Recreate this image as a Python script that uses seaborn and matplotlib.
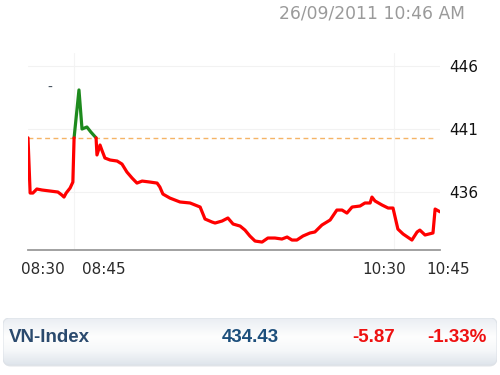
import numpy as np
import pandas as pd
import matplotlib
matplotlib.use("Agg")
import matplotlib.pyplot as plt
import matplotlib.transforms as mtransforms
from matplotlib.patches import FancyBboxPatch
from matplotlib.colors import LinearSegmentedColormap
import seaborn as sns

# ---------------- data ----------------
minutes = [0.0, 0.7, 1.6, 2.9, 4.6, 7.2, 9.8, 11.1, 11.8, 12.5, 13.8, 14.7, 15.1,
           16.7, 17.7, 19.3, 20.6, 22.3,
           22.6, 23.6, 24.2, 25.2, 26.9, 29.2, 30.8, 32.4, 34.1, 35.7, 37.4, 40.0,
           42.3, 43.2, 44.2, 46.5, 49.8, 53.1, 56.4, 58.0, 60.3, 61.3, 63.6, 65.5,
           67.2, 69.5, 71.1, 72.7, 74.4, 76.7, 78.6, 80.9, 83.2, 84.9, 86.5, 88.1,
           90.1, 92.4, 94.0, 96.3, 99.0, 101.2, 102.9, 104.5, 106.2, 108.8, 110.4,
           112.1, 112.7, 113.7, 116.0, 118.0, 119.6, 121.2, 122.9, 125.8, 127.5,
           128.4, 130.1, 132.7, 133.4, 135.0]
values = [440.30, 435.92, 435.92, 436.24, 436.16, 436.08, 436.00, 435.76, 435.60, 435.92, 436.32, 436.79, 440.30,
          444.10, 441.00, 441.16, 440.76, 440.30,
          438.94, 439.73, 439.33, 438.70, 438.54, 438.46, 438.22, 437.59, 437.11, 436.71, 436.87, 436.79,
          436.71, 436.40, 435.84, 435.52, 435.21, 435.13, 434.81, 433.86, 433.62, 433.54, 433.70, 433.94,
          433.46, 433.30, 432.98, 432.51, 432.11, 432.03, 432.35, 432.35, 432.27, 432.43, 432.19, 432.19,
          432.51, 432.75, 432.83, 433.38, 433.78, 434.57, 434.57, 434.33, 434.81, 434.89, 435.13,
          435.13, 435.60, 435.29, 434.97, 434.73, 434.73, 433.06, 432.67, 432.19, 432.83,
          432.98, 432.59, 432.75, 434.65, 434.43]
ref_value = 440.30
xtick_minutes = [0, 15, 120, 135]
xtick_labels = ["08:30", "08:45", "10:30", "10:45"]
ytick_values = [436, 441, 446]
timestamp = "26/09/2011 10:46 AM"
index_name = "VN-Index"
last_value = "434.43"
change = "-5.87"
pct_change = "-1.33%"

# ---------------- split into up/down segments ----------------
t = np.array(minutes)
v = np.array(values)
eps = 0.011


def runs(mask):
    out, start = [], None
    for i, m in enumerate(mask):
        if m and start is None:
            start = i
        if not m and start is not None:
            out.append((start, i))
            start = None
    if start is not None:
        out.append((start, len(mask)))
    return [r for r in out if r[1] - r[0] >= 2]


frames = []
seg = 0
for label, mask in (("up", v >= ref_value - eps), ("down", v <= ref_value + eps)):
    for a, b in runs(mask):
        frames.append(pd.DataFrame({"t": t[a:b], "v": v[a:b], "dir": label, "seg": seg}))
        seg += 1
df = pd.concat(frames, ignore_index=True)

# ---------------- figure ----------------
sns.set_theme(style="white")
plt.rcParams["font.family"] = ["DejaVu Sans"]

W, H = 500, 375
fig = plt.figure(figsize=(5, 3.75), dpi=100)
fig.patch.set_facecolor("white")

ax_left, ax_right = 28, 440
ax_top, ax_bottom = 53.4, 250
ax = fig.add_axes([ax_left / W, (H - ax_bottom) / H,
                   (ax_right - ax_left) / W, (ax_bottom - ax_top) / H])
ax.set_facecolor("white")
ax.set_xlim(0, 135)
ax.set_ylim(431.4, 447.0)

ax.axhline(ref_value, xmin=0, xmax=0.985, color="#f5b466", lw=1.0,
           ls=(0, (3.5, 2.5)), zorder=1)
for xm in (15, 120):
    ax.axvline(xm, color="#f4f4f4", lw=0.8, zorder=0)

sns.lineplot(data=df, x="t", y="v", hue="dir", units="seg", estimator=None,
             sort=False, palette={"up": "#1d8a1d", "down": "#ff0000"},
             linewidth=2.3, legend=False, ax=ax, zorder=3)

ax.set_xlabel("")
ax.set_ylabel("")
ax.set_yticks(ytick_values)
ax.yaxis.tick_right()
ax.grid(axis="y", color="#f2f2f2", lw=0.8)
ax.grid(axis="x", visible=False)
ax.tick_params(axis="y", length=0, pad=7, labelsize=11, labelcolor="#111111")
ax.set_xticks(xtick_minutes)
ax.set_xticklabels(xtick_labels)
ax.tick_params(axis="x", length=0, pad=9, labelsize=11, labelcolor="#2a2a2a")
for lab, dx in zip(ax.get_xticklabels(), [15, 30, -10, 8]):
    lab.set_transform(lab.get_transform() +
                      mtransforms.ScaledTranslation(dx / 100, 0, fig.dpi_scale_trans))
for s in ("top", "left", "right"):
    ax.spines[s].set_visible(False)
ax.spines["bottom"].set_color("#9a9a9a")
ax.spines["bottom"].set_linewidth(1.3)

# small mark near the top-left
fig.text(50 / W, (H - 88) / H, "-", color="#44505e", fontsize=10, ha="center", va="center")

# timestamp
fig.text(372 / W, (H - 13) / H, timestamp, color="#9a9a9a", fontsize=12.3,
         ha="center", va="center")

# ---------------- bottom bar ----------------
bx0, bx1, by0, by1 = 3, 497, 318, 365
bw, bh = bx1 - bx0, by1 - by0
bar_ax = fig.add_axes([bx0 / W, (H - by1 - 2) / H, bw / W, (bh + 2) / H])
bar_ax.set_xlim(0, bw)
bar_ax.set_ylim(-2, bh)
bar_ax.axis("off")
shadow = FancyBboxPatch((0.5, -1.5), bw - 1, bh, boxstyle="round,pad=0,rounding_size=7",
                        fc="#d6dadf", ec="none", alpha=0.7)
bar_ax.add_patch(shadow)
patch = FancyBboxPatch((0, 0), bw, bh, boxstyle="round,pad=0,rounding_size=7",
                       fc="none", ec="#dde2e8", lw=0.8)
bar_ax.add_patch(patch)
cmap = LinearSegmentedColormap.from_list(
    "bar", [(0, "#dfe5ec"), (0.3, "#f5f7f9"), (0.6, "#fefefe"), (1.0, "#eaeef3")])
grad = np.linspace(0, 1, 64).reshape(-1, 1)
im = bar_ax.imshow(grad, cmap=cmap, extent=[0, bw, 0, bh], aspect="auto",
                   origin="lower", zorder=1)
im.set_clip_path(patch)
patch.set_zorder(2)

ty = (H - 338) / H
fig.text(9 / W, ty, index_name, color="#2b4a6e", fontsize=13.5, fontweight="bold",
         family="Liberation Sans", ha="left", va="center")
fig.text(250 / W, ty, last_value, color="#1d4f7c", fontsize=13.5, fontweight="bold",
         family="Liberation Sans", ha="center", va="center")
fig.text(374 / W, ty, change, color="#ee1111", fontsize=13.5, fontweight="bold",
         family="Liberation Sans", ha="center", va="center")
fig.text(457 / W, ty, pct_change, color="#ee1111", fontsize=13.5, fontweight="bold",
         family="Liberation Sans", ha="center", va="center")

fig.savefig("out.png", dpi=100, facecolor="white")
